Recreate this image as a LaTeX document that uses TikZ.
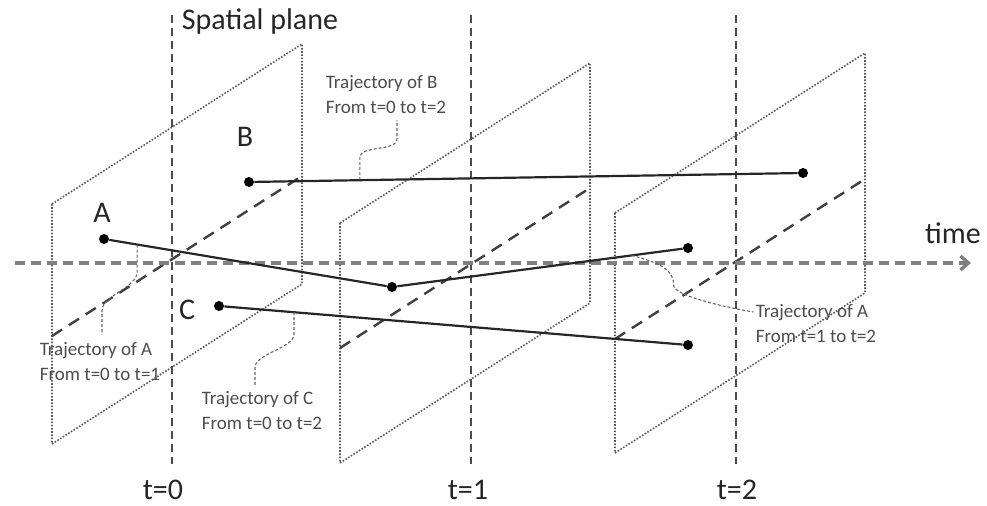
\documentclass[tikz,border=0pt]{standalone}
\usepackage{fontspec}
\setmainfont{Carlito}
\usetikzlibrary{positioning,arrows.meta,calc}

\begin{document}
\begin{tikzpicture}[
  x=0.5pt, y=-0.5pt,
  >={Straight Barb[length=4pt,width=7pt]},
  plane/.style={draw=black!65, line width=0.8pt, dash pattern=on 0.8pt off 0.8pt},
  tline/.style={draw=black!70, line width=1.4pt, dash pattern=on 4pt off 2.5pt},
  timeaxis/.style={draw=black!50, line width=1.7pt, dash pattern=on 5pt off 3pt},
  diag/.style={draw=black!75, line width=1.2pt, dash pattern=on 6pt off 4pt},
  traj/.style={draw=black!85, line width=1.1pt},
  trajdot/.style={circle, fill=black, inner sep=0pt, minimum size=5pt},
  big/.style={font=\fontsize{15}{18}\selectfont, text=black!85, inner sep=1pt},
  note/.style={font=\fontsize{9.5}{12.5}\selectfont, text=black!70, align=left, inner sep=1pt},
  leader/.style={draw=black!60, line width=0.55pt, dash pattern=on 1.5pt off 1pt},
]
\useasboundingbox (0,0) rectangle (987,506);

\foreach \n/\px/\py/\dy in {0/52/204/132, 1/340/223/125, 2/615/213/126} {
  \draw[plane] (\px,\py) -- ++(250,-160) -- ++(0,240) -- ++(-250,160) -- cycle;
  \draw[diag] (\px,\py+\dy) -- ++(250,-160);
}

\foreach \n/\tx/\dx in {0/172/-9, 1/471/-3, 2/736/1} {
  \coordinate (top\n) at (\tx,15);
  \node[big] (t\n) at (\tx+\dx,490) {t=\n};
  \draw[tline, shorten >=7pt] (top\n) -- (top\n |- t\n.north);
}

\coordinate (ax0) at (15,263);
\coordinate (ax1) at (971,263);
\draw[timeaxis, ->] (ax0) -- (ax1);
\node[big] (time) at (953,233) {time};
\node[big] (spatial) at (260,22) {Spatial plane};

\node[trajdot] (a0) at (104,239) {};
\node[trajdot] (a1) at (392,287) {};
\node[trajdot] (a2) at (688,248) {};
\node[trajdot] (b0) at (249,182) {};
\node[trajdot] (b2) at (803,173) {};
\node[trajdot] (c0) at (219,306) {};
\node[trajdot] (c2) at (688,345) {};
\draw[traj] (a0) -- (a1) -- (a2);
\draw[traj] (b0) -- (b2);
\draw[traj] (c0) -- (c2);
\node[big, above=4.5pt of a0, xshift=-1pt] (labA) {A};
\node[big, above=14pt of b0, xshift=-2pt] (labB) {B};
\node[big, left=8pt of c0, yshift=-2pt] (labC) {C};

\node[note] (lblA01) at (100,362) {Trajectory of A\\From t=0 to t=1};
\node[note] (lblB) at (386,95) {Trajectory of B\\From t=0 to t=2};
\node[note] (lblC) at (262,411) {Trajectory of C\\From t=0 to t=2};
\node[note] (lblA12) at (816,324) {Trajectory of A\\From t=1 to t=2};

\coordinate (sA01) at ($(a0)!0.115!(a1)$);
\coordinate (sB) at ($(b0)!0.2!(b2)$);
\coordinate (sC) at ($(c0)!0.16!(c2)$);
\coordinate (sA12) at ($(a1)!0.81!(a2)$);
\draw[leader] (sA01) -- ++(0,28) .. controls +(0,14) and +(0,-14) .. ($(lblA01.north)+(2,-30)$) -- ($(lblA01.north)+(2,-6)$);
\draw[leader] (sB) -- ++(0,-22) .. controls +(0,-14) and +(0,14) .. ($(lblB.south)+(11,22)$) -- ($(lblB.south)+(11,4)$);
\draw[leader] (sC) -- ++(0,22) .. controls +(0,14) and +(0,-14) .. ($(lblC.north)+(-7,-22)$) -- ($(lblC.north)+(-7,-4)$);
\draw[leader] (sA12) .. controls +(30,8) and +(0,-15) .. ++(42,30) .. controls +(0,10) and +(-30,-5) .. ($(lblA12.west)+(0,-12)$);
\end{tikzpicture}
\end{document}
